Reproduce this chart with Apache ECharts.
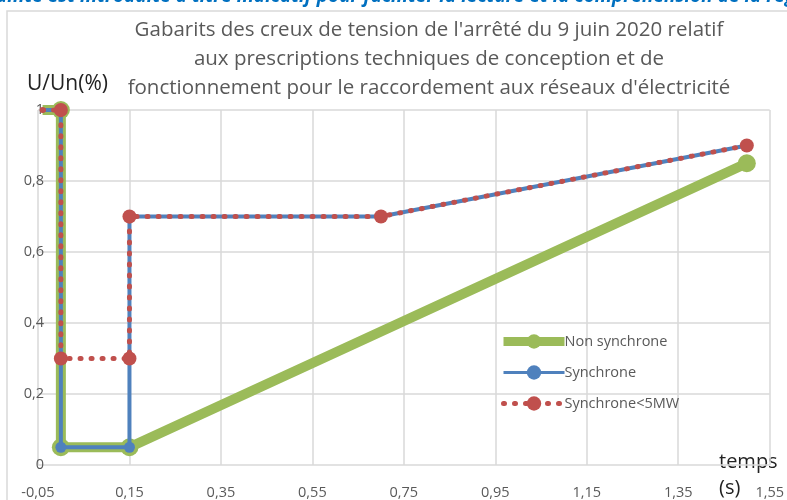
<!DOCTYPE html>
<html>
<head>
<meta charset="utf-8">
<script src="https://cdn.jsdelivr.net/npm/echarts@6/dist/echarts.min.js"></script>
<style>
  html, body { margin: 0; padding: 0; background: #fff; }
  #chart { width: 787px; height: 500px; }
</style>
</head>
<body>
<div id="chart"></div>
<script>
// données (temps en s, U/Un)
var nonSyncT = [-0.04, 0, 0, 0.15, 1.5];
var nonSyncU = [1, 1, 0.05, 0.05, 0.85];

var syncT = [-0.04, 0, 0, 0.15, 0.15, 0.7, 1.5];
var syncU = [1, 1, 0.05, 0.05, 0.7, 0.7, 0.9];

var sync5T = [-0.04, 0, 0, 0.15, 0.15, 0.7, 1.5];
var sync5U = [1, 1, 0.3, 0.3, 0.7, 0.7, 0.9];

var xStart = -0.05; // premier repère de l'axe des temps
var titleText = "Gabarits des creux de tension de l'arrêté du 9 juin 2020 relatif\naux prescriptions techniques de conception et de\nfonctionnement pour le raccordement aux réseaux d'électricité";
var topNote = "ainte est introduite à titre indicatif pour faciliter la lecture et la compréhension de la régl";

// l'axe commence à -0,05 : on décale de 0,05 pour garder des repères tous les 0,2
function pts(ts, us, hideFirst) {
    return ts.map(function(t, i) {
        var p = { value: [+(t - xStart).toFixed(3), us[i]] };
        if (hideFirst && i === 0) p.symbol = 'none';
        return p;
    });
}

function comma(v) {
    return String(v).replace('.', ',');
}

var chart = echarts.init(document.getElementById('chart'));
var grey = '#595959';
var gridColor = '#d9d9d9';
var green = '#9BBB59', blue = '#4F81BD', red = '#C0504D';

var option = {
    animation: false,
    backgroundColor: '#fff',
    title: {
        text: titleText,
        left: 424,
        top: 11,
        textAlign: 'center',
        textStyle: {
            fontFamily: 'Open Sans',
            fontSize: 20.5,
            fontWeight: 'normal',
            color: grey,
            lineHeight: 29
        }
    },
    grid: { left: 38, right: 17, top: 110, bottom: 35, containLabel: false },
    legend: {
        orient: 'vertical',
        left: 494,
        top: 329,
        itemWidth: 61,
        itemHeight: 18,
        itemGap: 16,
        textStyle: { fontFamily: 'Open Sans', fontSize: 14.5, color: grey, padding: [0, 0, 0, -5] },
        data: [
            { name: 'Non synchrone', lineStyle: { width: 9 }, itemStyle: { color: green } },
            { name: 'Synchrone', lineStyle: { width: 3 } },
            { name: 'Synchrone<5MW', lineStyle: { width: 5 } }
        ]
    },
    xAxis: {
        type: 'value',
        min: 0,
        max: 1.6,
        interval: 0.2,
        axisLine: { show: false },
        axisTick: { show: false },
        splitLine: { show: true, lineStyle: { color: gridColor, width: 1.5 } },
        axisLabel: {
            margin: 20,
            fontFamily: 'Open Sans',
            fontSize: 14.5,
            color: grey,
            formatter: function(v) {
                return comma((v + xStart).toFixed(2));
            }
        }
    },
    yAxis: {
        type: 'value',
        min: 0,
        max: 1,
        interval: 0.2,
        axisLine: { show: false },
        axisTick: { show: false },
        splitLine: { show: true, lineStyle: { color: gridColor, width: 1.5 } },
        axisLabel: {
            margin: -6,
            fontFamily: 'Open Sans',
            fontSize: 14.5,
            color: grey,
            formatter: function(v) {
                return comma(+v.toFixed(1));
            }
        }
    },
    graphic: [
        {
            type: 'text',
            left: -4,
            top: -13,
            style: {
                text: topNote,
                font: 'italic bold 19px "Open Sans"',
                fill: '#0070C0'
            }
        },
        {
            type: 'polyline',
            shape: { points: [[7, 500], [7, 11], [787, 11]] },
            style: { stroke: gridColor, fill: null, lineWidth: 1.5 }
        },
        {
            type: 'text',
            left: 27,
            top: 74,
            style: { text: 'U/Un(%)', font: '21px "Open Sans"', fill: '#222' }
        },
        {
            type: 'text',
            left: 719,
            top: 452,
            style: { text: 'temps', font: '20px "Open Sans"', fill: '#222' }
        },
        {
            type: 'text',
            left: 719,
            top: 478,
            style: { text: '(s)', font: '20px "Open Sans"', fill: '#222' }
        }
    ],
    series: [
        {
            name: 'Non synchrone',
            type: 'line',
            data: pts(nonSyncT, nonSyncU, true),
            symbol: 'circle',
            symbolSize: 18,
            lineStyle: { color: green, width: 10 },
            itemStyle: { color: green },
            z: 2
        },
        {
            name: 'Synchrone',
            type: 'line',
            data: pts(syncT, syncU, true),
            symbol: 'circle',
            symbolSize: 11,
            lineStyle: { color: blue, width: 4 },
            itemStyle: { color: blue },
            z: 3
        },
        {
            name: 'Synchrone<5MW',
            type: 'line',
            data: pts(sync5T, sync5U, false).map(function(p, i) {
                if (i === 0) p.symbolSize = 6;
                return p;
            }),
            symbol: 'circle',
            symbolSize: 14,
            lineStyle: { color: red, width: 5, type: [1, 10], cap: 'round' },
            itemStyle: { color: red },
            z: 4
        }
    ]
};

chart.setOption(option);
</script>
</body>
</html>
